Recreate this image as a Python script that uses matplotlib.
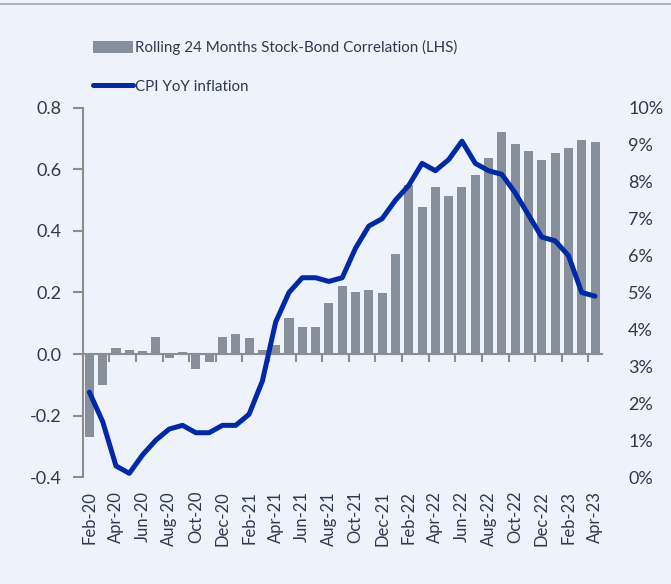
import matplotlib.pyplot as plt
from matplotlib.lines import Line2D
from matplotlib.patches import Patch
from matplotlib.ticker import PercentFormatter

# ------ DATA ----------------------------------------

months = ["Feb-20", "Mar-20", "Apr-20", "May-20", "Jun-20", "Jul-20", "Aug-20", "Sep-20",
          "Oct-20", "Nov-20", "Dec-20", "Jan-21", "Feb-21", "Mar-21", "Apr-21", "May-21",
          "Jun-21", "Jul-21", "Aug-21", "Sep-21", "Oct-21", "Nov-21", "Dec-21", "Jan-22",
          "Feb-22", "Mar-22", "Apr-22", "May-22", "Jun-22", "Jul-22", "Aug-22", "Sep-22",
          "Oct-22", "Nov-22", "Dec-22", "Jan-23", "Feb-23", "Mar-23", "Apr-23"]

correlation = [-0.271, -0.102, 0.020, 0.014, 0.011, 0.054, -0.014, 0.007,
               -0.050, -0.027, 0.056, 0.066, 0.051, 0.014, 0.030, 0.118,
               0.089, 0.089, 0.167, 0.222, 0.203, 0.209, 0.199, 0.326,
               0.551, 0.479, 0.544, 0.515, 0.544, 0.583, 0.638, 0.723,
               0.684, 0.661, 0.632, 0.655, 0.671, 0.697, 0.690]

cpi = [2.3, 1.5, 0.3, 0.1, 0.6, 1.0, 1.3, 1.4, 1.2, 1.2, 1.4, 1.4, 1.7, 2.6,
       4.2, 5.0, 5.4, 5.4, 5.3, 5.4, 6.2, 6.8, 7.0, 7.5, 7.9, 8.5, 8.3, 8.6,
       9.1, 8.5, 8.3, 8.2, 7.7, 7.1, 6.5, 6.4, 6.0, 5.0, 4.9]

bar_label = "Rolling 24 Months Stock-Bond Correlation (LHS)"
line_label = "CPI YoY inflation"

# ------ STYLE ---------------------------------------

bg = "#eef2fa"
bar_col = "#87909a"
line_col = "#0029a8"
axis_col = "#8c8c8c"
text_col = "#2e3a4c"

plt.rcParams["font.family"] = ["Lato", "DejaVu Sans"]

fig = plt.figure(figsize=(6.71, 5.84), dpi=100, facecolor=bg)
ax = fig.add_axes([0.1233, 0.1832, 0.7734, 0.6319])
ax.set_facecolor(bg)

x = list(range(len(months)))
ax.bar(x, correlation, width=0.68, color=bar_col, zorder=2)
ax.set_xlim(-0.5, len(months) - 0.5)
ax.set_ylim(-0.4, 0.8)
ax.set_yticks([-0.4, -0.2, 0.0, 0.2, 0.4, 0.6, 0.8])
ax.set_yticklabels(["-0.4", "-0.2", "0.0", "0.2", "0.4", "0.6", "0.8"])

for s in ["top", "right", "bottom"]:
    ax.spines[s].set_visible(False)
ax.spines["left"].set_color(axis_col)
ax.spines["left"].set_linewidth(1.5)
ax.tick_params(axis="y", colors=axis_col, length=7, width=1.5, pad=8,
               labelcolor=text_col, labelsize=13)

# category labels every two months, low position
ax.set_xticks(x[::2])
ax.set_xticklabels(months[::2], rotation=90)
ax.tick_params(axis="x", length=0, pad=10, labelcolor=text_col, labelsize=12)

# zero line with tick marks between categories
zero_ax = ax.secondary_xaxis(1 / 3)
zero_ax.set_xticks([i + 0.5 for i in x[1:-1:2]])
zero_ax.set_xticklabels([])
zero_ax.spines["bottom"].set_color(axis_col)
zero_ax.spines["bottom"].set_linewidth(1.5)
zero_ax.tick_params(axis="x", colors=axis_col, length=6, width=1.5, direction="out")

# inflation on the right axis
ax2 = ax.twinx()
ax2.plot(x, cpi, color=line_col, linewidth=3.6, solid_capstyle="round",
         solid_joinstyle="round", zorder=3)
ax2.set_ylim(0, 10)
ax2.set_yticks(range(0, 11))
ax2.yaxis.set_major_formatter(PercentFormatter(decimals=0))
for s in ax2.spines.values():
    s.set_visible(False)
ax2.tick_params(axis="y", length=0, pad=19, labelcolor=text_col, labelsize=13)

handles = [Patch(facecolor=bar_col, edgecolor="none"),
           Line2D([0], [0], color=line_col, linewidth=3.6, solid_capstyle="round")]
fig.legend(handles, [bar_label, line_label], loc="upper left",
           bbox_to_anchor=(0.1386, 0.931), frameon=False, fontsize=10.9,
           handlelength=2.65, handleheight=0.8, handletextpad=0.15,
           labelspacing=1.6, borderpad=0, borderaxespad=0,
           labelcolor=text_col)

# thin rule across the top
fig.add_artist(Line2D([0, 1], [0.993, 0.993], transform=fig.transFigure,
                      color="#b4b8be", linewidth=1.5))

plt.savefig("out.png", dpi=100, facecolor=bg)
